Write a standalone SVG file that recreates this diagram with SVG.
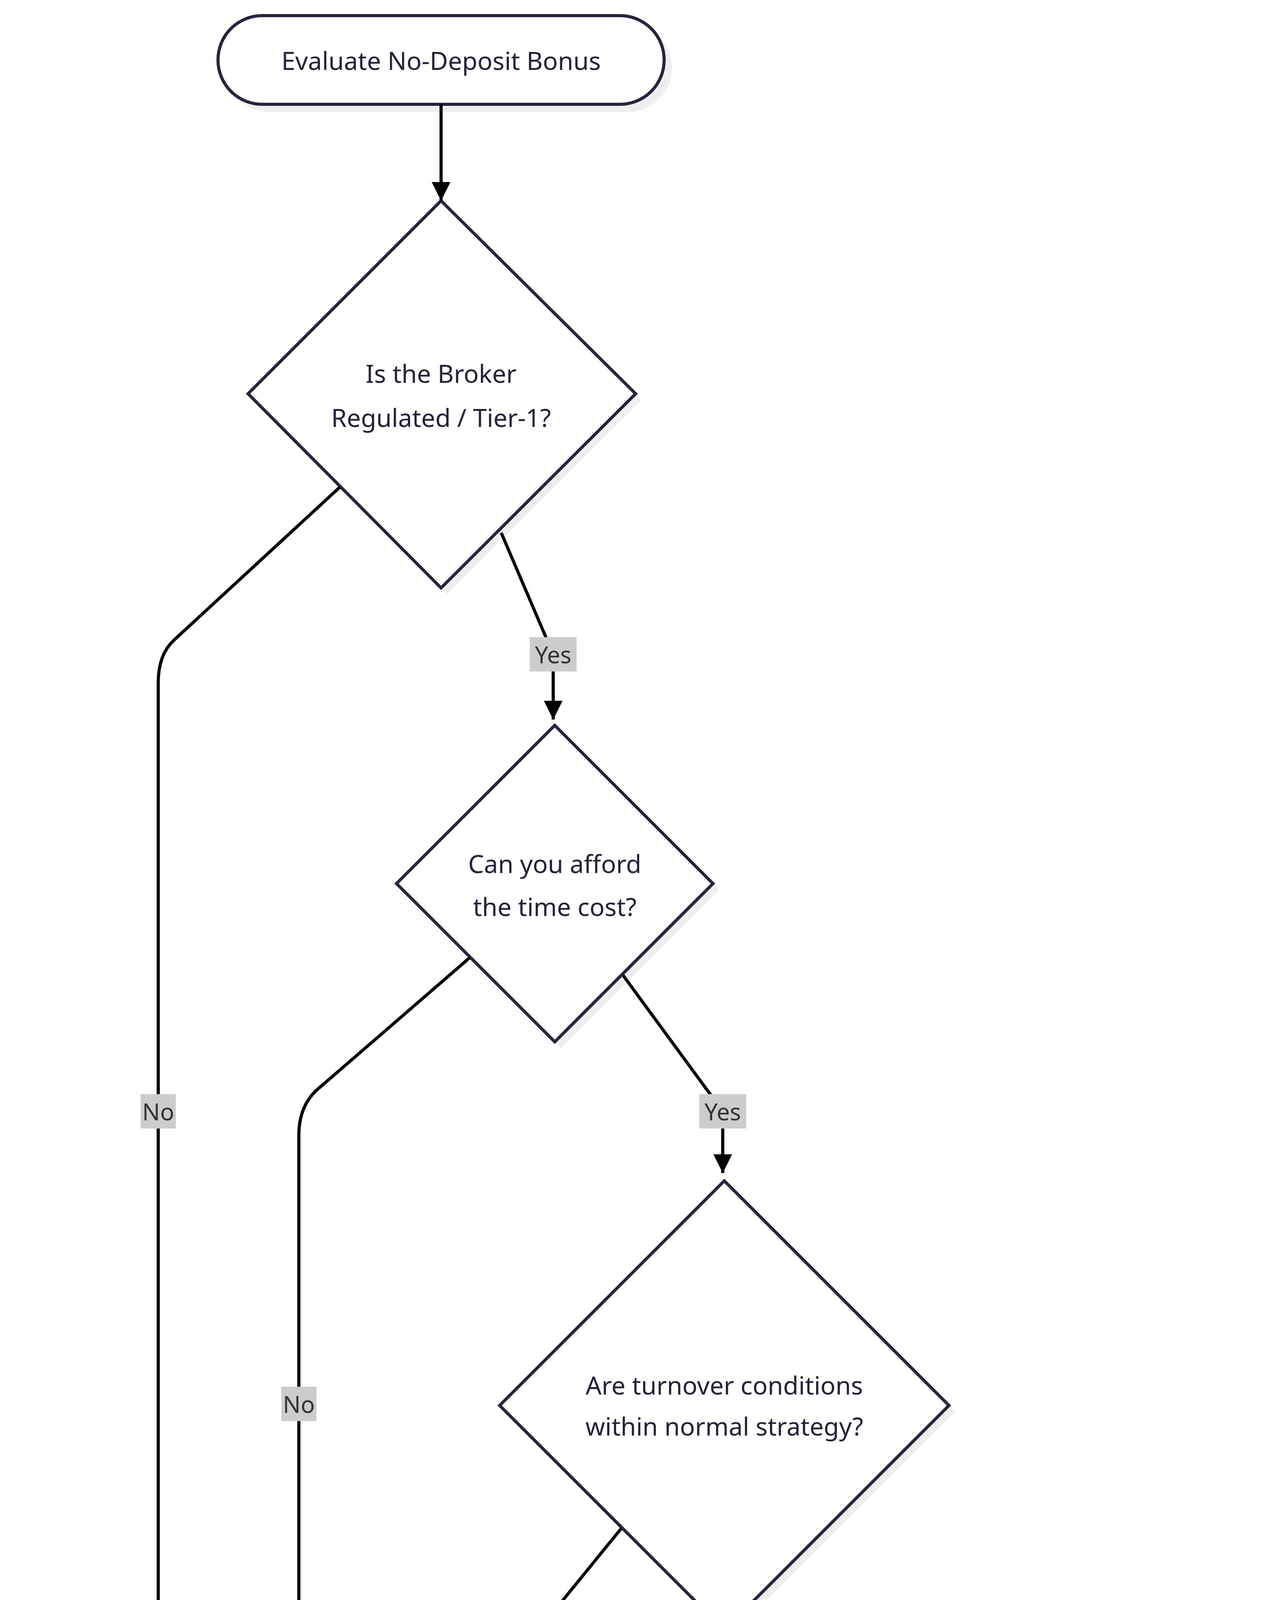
<svg xmlns="http://www.w3.org/2000/svg" width="3238" height="6345" viewBox="0 0 3238 6345">
<style>
text{font-family:"Noto Sans","DejaVu Sans",sans-serif;font-size:64px;fill:#24223a;text-anchor:middle;dominant-baseline:central}
.n{fill:#fff;stroke:#26253d;stroke-width:8}
.sh{fill:#efefef}
.e{fill:none;stroke:#000;stroke-width:8}
.lb{fill:#cccccc}
.lt{font-size:60px;fill:#333}
</style>
<defs>
<marker id="a" markerUnits="userSpaceOnUse" markerWidth="52" markerHeight="52" refX="48" refY="24" orient="auto" viewBox="0 0 52 52"><path d="M0,0 L48,24 L0,48 Z" fill="#000"/></marker>
</defs>
<g id="start">
<rect class="sh" x="578" y="60" width="1142" height="227" rx="113"/>
<rect class="n" x="558" y="40" width="1142" height="227" rx="113"/>
<text x="1129" y="154">Evaluate No-Deposit Bonus</text>
</g>
<g id="d1">
<polygon class="sh" points="1145,530 1643,1024 1145,1521 651,1024"/>
<polygon class="n" points="1129,514 1627,1008 1129,1505 635,1008"/>
<text x="1129" y="955">Is the Broker</text>
<text x="1129" y="1068">Regulated / Tier-1?</text>
</g>
<g id="d2">
<polygon class="sh" points="1436,1873 1841,2278 1436,2683 1031,2278"/>
<polygon class="n" points="1420,1857 1825,2262 1420,2667 1015,2262"/>
<text x="1420" y="2210">Can you afford</text>
<text x="1420" y="2320">the time cost?</text>
</g>
<g id="d3">
<polygon class="sh" points="1870,3039 2445,3614 1870,4189 1295,3614"/>
<polygon class="n" points="1854,3023 2429,3598 1854,4173 1279,3598"/>
<text x="1854" y="3545">Are turnover conditions</text>
<text x="1854" y="3650">within normal strategy?</text>
</g>
<g id="d4">
<polygon class="sh" points="1934,4544 2481,5091 1934,5638 1387,5091"/>
<polygon class="n" points="1918,4528 2465,5075 1918,5622 1371,5075"/>
<text x="1918" y="5022">Is there a</text>
<text x="1918" y="5124">profit withdrawal cap?</text>
</g>
<g id="decline">
<rect class="sh" x="60" y="4982" width="1016" height="226" rx="113"/>
<rect x="40" y="4962" width="1016" height="226" rx="113" fill="#fde1e1" stroke="#b71c1c" stroke-width="8"/>
<text x="548" y="5075">Decline Offer: High Risk</text>
</g>
<g id="proceed">
<rect class="sh" x="651" y="5993" width="1162" height="332"/>
<rect x="631" y="5973" width="1162" height="332" fill="#fff9e6" stroke="#d87a1c" stroke-width="8"/>
<text x="1212" y="6087">Proceed with low</text>
<text x="1212" y="6192">expectations</text>
</g>
<g id="accept">
<rect class="sh" x="2064" y="6046" width="1153" height="227" rx="113"/>
<rect x="2044" y="6026" width="1153" height="227" rx="113" fill="#e3f9e9" stroke="#1e8a3e" stroke-width="8"/>
<text x="2620" y="6139">Accept for platform testing</text>
</g>
<g id="edges">
<path class="e" marker-end="url(#a)" d="M1129,267 L1129,514"/>
<path class="e" marker-end="url(#a)" d="M1283,1364 L1416,1675 L1416,1842"/>
<path class="e" marker-end="url(#a)" d="M870,1247 L445,1639 Q405,1676 405,1748 L405,4128 C405,4300 430,4450 445,4532 L528,4937"/>
<path class="e" marker-end="url(#a)" d="M1202,2452 L809,2792 Q765,2834 765,2906 L765,4168 C765,4370 728,4490 708,4553 L600,4937"/>
<path class="e" marker-end="url(#a)" d="M1595,2497 L1850,2845 L1850,3003"/>
<path class="e" marker-end="url(#a)" d="M1590,3913 L1234,4351 L680,4937"/>
<path class="e" marker-end="url(#a)" d="M1898,4132 L1918,4351 L1918,4505"/>
<path class="e" marker-end="url(#a)" d="M1647,5350 L1210,5795 L1210,5953"/>
<path class="e" marker-end="url(#a)" d="M2189,5350 L2618,5795 L2618,6006"/>
</g>
<g id="labels">
<rect class="lb" x="1356" y="1631" width="120" height="88"/><text class="lt" x="1416" y="1675">Yes</text>
<rect class="lb" x="360" y="2801" width="90" height="88"/><text class="lt" x="405" y="2845">No</text>
<rect class="lb" x="720" y="3550" width="90" height="88"/><text class="lt" x="765" y="3594">No</text>
<rect class="lb" x="1790" y="2801" width="120" height="88"/><text class="lt" x="1850" y="2845">Yes</text>
<rect class="lb" x="1189" y="4307" width="90" height="88"/><text class="lt" x="1234" y="4351">No</text>
<rect class="lb" x="1858" y="4307" width="120" height="88"/><text class="lt" x="1918" y="4351">Yes</text>
<rect class="lb" x="1150" y="5751" width="120" height="88"/><text class="lt" x="1210" y="5795">Yes</text>
<rect class="lb" x="2573" y="5751" width="90" height="88"/><text class="lt" x="2618" y="5795">No</text>
</g>
</svg>
